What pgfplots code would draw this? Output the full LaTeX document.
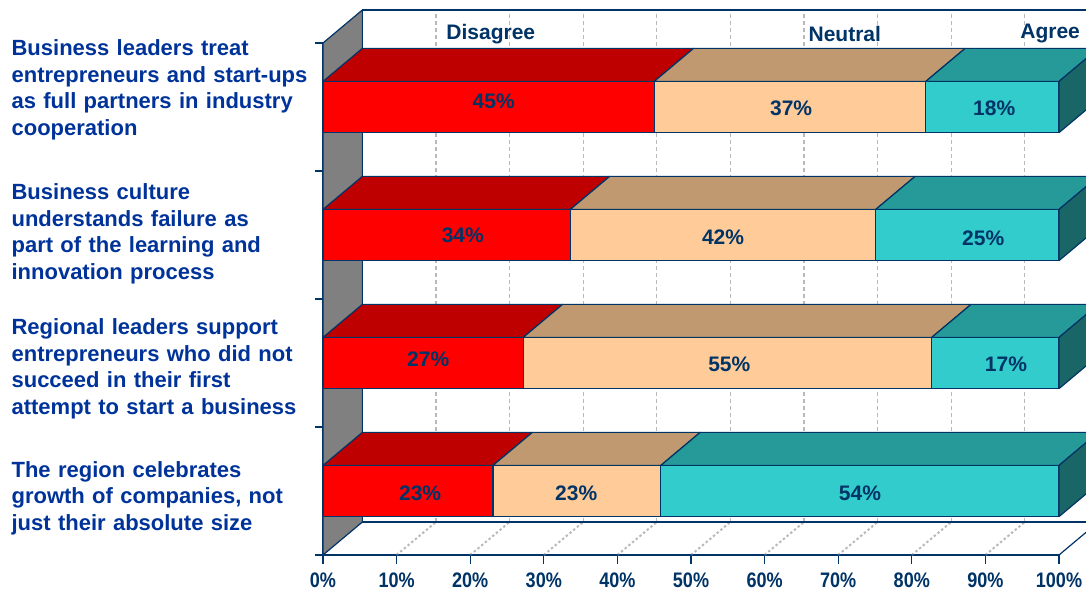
\documentclass[border=0pt]{standalone}
\usepackage{pgfplots}
\pgfplotsset{compat=1.18}
\usepackage{pgfplotstable}
\usepackage{fontspec}
\setmainfont{Liberation Sans}
\newfontfamily\narrowfont[FakeStretch=0.86]{Liberation Sans}
\definecolor{navy}{RGB}{0,51,102}
\definecolor{lblue}{RGB}{0,51,153}
\definecolor{redF}{RGB}{255,0,0}
\definecolor{redT}{RGB}{190,0,0}
\definecolor{peachF}{RGB}{255,204,153}
\definecolor{peachT}{RGB}{193,153,112}
\definecolor{tealF}{RGB}{51,204,204}
\definecolor{tealT}{RGB}{38,153,153}
\definecolor{tealS}{RGB}{26,102,102}
\definecolor{wallgray}{RGB}{128,128,128}
\definecolor{gridgray}{RGB}{185,185,185}
\def\dx{5.35}\def\dy{0.258}\def\hw{0.2}
% one segment of a 3D bar: #1 y centre, #2 start, #3 end, #4 front colour, #5 top colour
\newcommand\segment[5]{%
  \pgfmathsetmacro\Ylo{#1-\hw}%
  \pgfmathsetmacro\Yhi{#1+\hw}%
  \pgfmathsetmacro\Yback{#1+\hw+\dy}%
  \pgfmathsetmacro\Xa{#2+\dx}%
  \pgfmathsetmacro\Xb{#3+\dx}%
  \addplot[fill=#5, draw=navy, line width=0.6pt, line join=round] coordinates {(#2,\Yhi) (#3,\Yhi) (\Xb,\Yback) (\Xa,\Yback) (#2,\Yhi)};
  \addplot[fill=#4, draw=navy, line width=0.6pt, line join=round] coordinates {(#2,\Ylo) (#3,\Ylo) (#3,\Yhi) (#2,\Yhi) (#2,\Ylo)};
}
\newcommand\sideface[1]{%
  \pgfmathsetmacro\Ylo{#1-\hw}%
  \pgfmathsetmacro\Yhi{#1+\hw}%
  \pgfmathsetmacro\Ylob{#1-\hw+\dy}%
  \pgfmathsetmacro\Yhib{#1+\hw+\dy}%
  \pgfmathsetmacro\Xr{100+\dx}%
  \addplot[fill=tealS, draw=navy, line width=0.6pt, line join=round] coordinates {(100,\Ylo) (\Xr,\Ylob) (\Xr,\Yhib) (100,\Yhi) (100,\Ylo)};
}
% value labels: x, y, label
\pgfplotstableread{
x y lab
23.2 4.047 45
63.6 3.992 37
91.2 3.992 18
19.0 3.000 34
54.35 2.984 42
89.7 2.977 25
14.3 2.031 27
55.2 1.992 55
92.8 1.992 17
13.2 0.984 23
34.4 0.984 23
72.95 0.984 54
}\labtab
\begin{document}
\begin{tikzpicture}
\useasboundingbox (-161.5pt,-18pt) rectangle (381.5pt,277.5pt);
\clip (-161.5pt,-18pt) rectangle (381.5pt,277.5pt);
\begin{axis}[
  at={(0pt,0pt)}, anchor=south west,
  x=3.68pt, y=64pt,
  xmin=0, xmax=100, ymin=0.5, ymax=4.5,
  clip=false,
  axis x line*=bottom, axis y line*=left,
  axis line style={navy, line width=0.6pt},
  tick align=outside,
  major tick length=4.5pt,
  minor tick length=4pt,
  major y tick style={draw=none},
  minor y tick style={navy, line width=0.6pt},
  major x tick style={navy, line width=0.6pt},
  xtick={0,10,...,100},
  xticklabels={0\%,10\%,20\%,30\%,40\%,50\%,60\%,70\%,80\%,90\%,100\%},
  ytick={4.133,3.008,1.953,0.945},
  yticklabels={
    {Business leaders treat\\entrepreneurs and start-ups\\as full partners in industry\\cooperation},
    {Business culture\\understands failure as\\part of the learning and\\innovation process},
    {Regional leaders support\\entrepreneurs who did not\\succeed in their first\\attempt to start a business},
    {The region celebrates\\growth of companies, not\\just their absolute size}},
  minor ytick={0.5,1.5,2.5,3.5,4.5},
  xticklabel style={font=\narrowfont\bfseries\fontsize{10.5}{12}\selectfont, text=navy, yshift=-1pt},
  yticklabel style={font=\bfseries\fontsize{11}{13.25}\selectfont, text=lblue,
    align=left, text width=151pt, anchor=east, inner sep=0pt},
]
% back wall grid (dashed)
\addplot[gridgray, line width=0.6pt, dash pattern=on 2pt off 1.5pt, unbounded coords=jump] coordinates {
 (15.35,0.758) (15.35,4.758) (nan,nan) (25.35,0.758) (25.35,4.758) (nan,nan)
 (35.35,0.758) (35.35,4.758) (nan,nan) (45.35,0.758) (45.35,4.758) (nan,nan)
 (55.35,0.758) (55.35,4.758) (nan,nan) (65.35,0.758) (65.35,4.758) (nan,nan)
 (75.35,0.758) (75.35,4.758) (nan,nan) (85.35,0.758) (85.35,4.758) (nan,nan)
 (95.35,0.758) (95.35,4.758)};
% floor grid (dotted)
\addplot[gridgray, line width=1pt, dash pattern=on 1.2pt off 1.2pt, unbounded coords=jump] coordinates {
 (10,0.5) (15.35,0.758) (nan,nan) (20,0.5) (25.35,0.758) (nan,nan)
 (30,0.5) (35.35,0.758) (nan,nan) (40,0.5) (45.35,0.758) (nan,nan)
 (50,0.5) (55.35,0.758) (nan,nan) (60,0.5) (65.35,0.758) (nan,nan)
 (70,0.5) (75.35,0.758) (nan,nan) (80,0.5) (85.35,0.758) (nan,nan)
 (90,0.5) (95.35,0.758)};
% walls
\addplot[fill=wallgray, draw=navy, line width=0.6pt, line join=round] coordinates {(0,0.5) (5.35,0.758) (5.35,4.758) (0,4.5) (0,0.5)};
\addplot[navy, line width=0.6pt] coordinates {(5.35,4.758) (112,4.758)};
\addplot[navy, line width=1.3pt] coordinates {(5.35,0.758) (112,0.758)};
\addplot[navy, line width=0.6pt] coordinates {(0,0.5) (100,0.5) (105.35,0.758)};
% bars
\segment{4}{0}{45.0}{redF}{redT}
\segment{4}{45.0}{81.9}{peachF}{peachT}
\segment{4}{81.9}{100}{tealF}{tealT}
\sideface{4}
\segment{3}{0}{33.6}{redF}{redT}
\segment{3}{33.6}{75.1}{peachF}{peachT}
\segment{3}{75.1}{100}{tealF}{tealT}
\sideface{3}
\segment{2}{0}{27.2}{redF}{redT}
\segment{2}{27.2}{82.7}{peachF}{peachT}
\segment{2}{82.7}{100}{tealF}{tealT}
\sideface{2}
\segment{1}{0}{23.1}{redF}{redT}
\segment{1}{23.1}{45.9}{peachF}{peachT}
\segment{1}{45.9}{100}{tealF}{tealT}
\sideface{1}
% value labels
\addplot[draw=none, mark=none, nodes near coords={\pgfplotspointmeta\%}, point meta=explicit symbolic,
  every node near coord/.append style={anchor=center, text=navy, font=\bfseries\fontsize{10.5}{12}\selectfont}]
  table[x=x, y=y, meta=lab] {\labtab};
% series labels on the back wall
\node[text=navy, font=\bfseries\fontsize{10.5}{12}\selectfont] at (axis cs:22.8,4.572) {Disagree};
\node[text=navy, font=\bfseries\fontsize{10.5}{12}\selectfont] at (axis cs:70.9,4.572) {Neutral};
\node[text=navy, font=\bfseries\fontsize{10.5}{12}\selectfont] at (axis cs:98.8,4.572) {Agree};
\end{axis}
\end{tikzpicture}
\end{document}
